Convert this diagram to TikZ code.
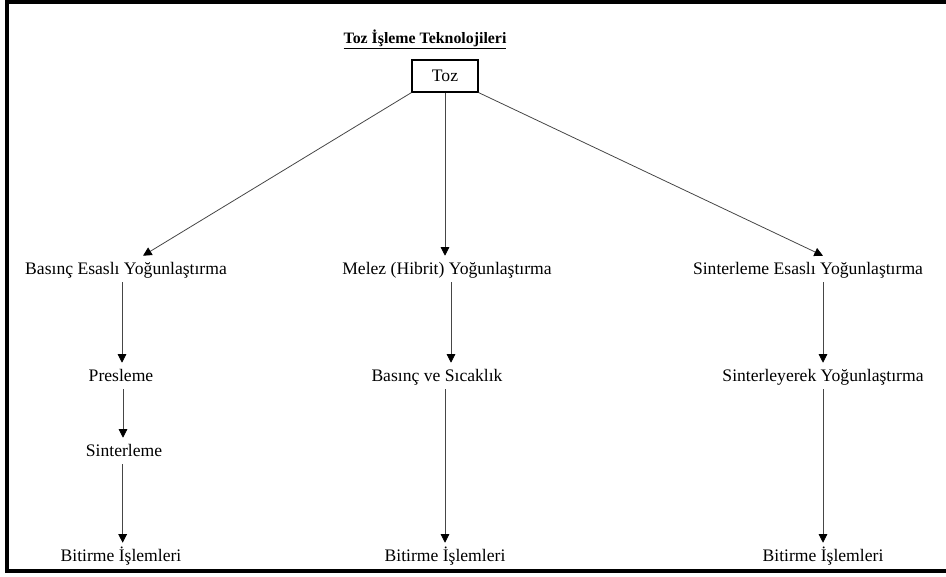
\documentclass[tikz,border=0pt]{standalone}
\usepackage{fontspec}
\setmainfont{Liberation Serif}
\usepackage{tikz}
\usetikzlibrary{arrows.meta}
\definecolor{cLine}{RGB}{70,70,70}
\tikzset{
	frame/.style    ={draw=black, line width=3pt},
	rootbox/.style  ={rectangle, draw=black, line width=0.9pt, minimum width=49.5pt, minimum height=24pt, inner sep=0pt},
	lbl/.style      ={anchor=base, text height=1em, text depth=0.25em, inner xsep=2pt, inner ysep=3.5pt},
	flowarrow/.style={-{Triangle[length=6.5pt, width=6.5pt, color=black]}, draw=cLine, line width=0.6pt},
}

\begin{document}
\begin{tikzpicture}[x=0.75pt, y=-0.75pt, every node/.style={font=\fontsize{13.2}{15}\selectfont}]
	\useasboundingbox (0,0) rectangle (946,576);
	\draw[frame] (946,1.5) -- (7,1.5) -- (7,571) -- (946,571);
	% title and root
	\node[anchor=base, font=\fontsize{11.9}{14}\selectfont\bfseries] (title) at (425,43) {\underline{Toz İşleme Teknolojileri}};
	\node[rootbox] (toz) at (445,76) {Toz};
	% first level
	\node[lbl] (basEsas) at (126,274) {Basınç Esaslı Yoğunlaştırma};
	\node[lbl] (melez)   at (447,274) {Melez (Hibrit) Yoğunlaştırma};
	\node[lbl] (sinEsas) at (808,274) {Sinterleme Esaslı Yoğunlaştırma};
	% second level
	\node[lbl] (presleme)  at (121,381) {Presleme};
	\node[lbl] (sicaklik)  at (437,381) {Basınç ve Sıcaklık};
	\node[lbl] (sinYog)    at (823,381) {Sinterleyerek Yoğunlaştırma};
	\node[lbl] (sinterleme) at (124,456) {Sinterleme};
	% finishing
	\node[lbl] (bitirmeA) at (121,561) {Bitirme İşlemleri};
	\node[lbl] (bitirmeB) at (445,561) {Bitirme İşlemleri};
	\node[lbl] (bitirmeC) at (823,561) {Bitirme İşlemleri};
	% connectors
	\draw[flowarrow] (toz.south west) -- ([xshift=12.75pt]basEsas.north);
	\draw[flowarrow] (toz.south) -- (toz.south |- melez.north);
	\draw[flowarrow] (toz.south east) -- ([xshift=11.25pt]sinEsas.north);
	\draw[flowarrow] ([xshift=-3pt]basEsas.south) -- ([xshift=-3pt]basEsas.south |- presleme.north);
	\draw[flowarrow] ([xshift=1.5pt]presleme.south) -- ([xshift=1.5pt]presleme.south |- sinterleme.north);
	\draw[flowarrow] ([xshift=-1pt]sinterleme.south) -- ([xshift=-1pt]sinterleme.south |- bitirmeA.north);
	\draw[flowarrow] ([xshift=3pt]melez.south) -- ([xshift=3pt]melez.south |- sicaklik.north);
	\draw[flowarrow] ([xshift=6pt]sicaklik.south) -- ([xshift=6pt]sicaklik.south |- bitirmeB.north);
	\draw[flowarrow] (sinEsas.south -| sinYog.north) -- (sinYog.north);
	\draw[flowarrow] (sinYog.south) -- (sinYog.south |- bitirmeC.north);
\end{tikzpicture}
\end{document}
